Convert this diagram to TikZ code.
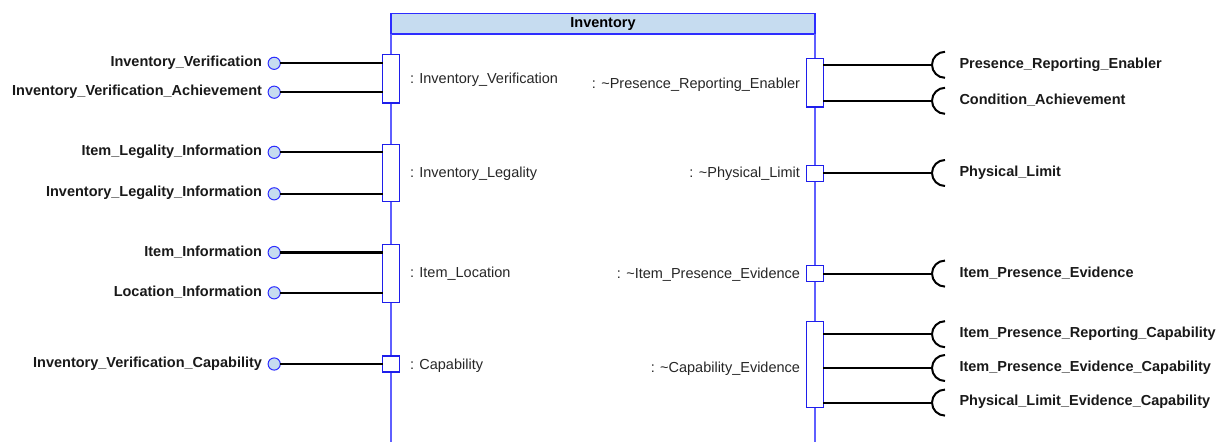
\documentclass[tikz,border=0pt]{standalone}
\usepackage{fontspec}
\setmainfont{Liberation Sans}
\begin{document}
\begin{tikzpicture}[x=1pt,y=1pt,
  every node/.style={inner sep=0pt, outer sep=0pt},
  titlebar/.style={draw=blockblue, fill=titlefill, line width=1.3pt, font=\fontsize{14.5}{16}\selectfont\bfseries},
  lifeline/.style={draw=lineblue, line width=1.7pt},
  portbox/.style={draw=portblue, fill=white, line width=1.3pt, minimum width=16.6pt},
  plabel/.style={font=\fontsize{14.5}{16}\selectfont, text=black!85},
  olabel/.style={font=\fontsize{14.5}{16}\selectfont\bfseries, text=black!90},
  iface/.style={circle, draw=blockblue, fill=titlefill, line width=1pt, minimum size=12.2pt},
  conn/.style={draw=black, line width=2.2pt},
  sock/.style={draw=black, line width=2pt}
]
\definecolor{blockblue}{RGB}{45,45,255}
\definecolor{lineblue}{RGB}{95,95,255}
\definecolor{portblue}{RGB}{30,30,235}
\definecolor{titlefill}{RGB}{198,220,240}
\useasboundingbox (0,0) rectangle (1220,-442);

% block header and its two borders
\node[titlebar, anchor=north west, minimum width=424pt, minimum height=20.7pt] (title) at (391,-13.3) {Inventory};
\coordinate (botL) at (391,-442);
\coordinate (botR) at (815,-442);
\draw[lifeline] (title.south west) -- (botL);
\draw[lifeline] (title.south east) -- (botR);

% ports on the left border
\node[portbox, minimum height=48.7pt] (pL1) at (391,-78.7) {};
\node[portbox, minimum height=57.4pt] (pL2) at (391,-173) {};
\node[portbox, minimum height=58pt] (pL3) at (391,-273.2) {};
\node[portbox, minimum height=16pt] (pL4) at (391,-364) {};

\node[plabel, anchor=west] (tL1) at (410,-80) {: Inventory\_Verification};
\node[plabel, anchor=west] (tL2) at (410,-174) {: Inventory\_Legality};
\node[plabel, anchor=west] (tL3) at (410,-274) {: Item\_Location};
\node[plabel, anchor=west] (tL4) at (410,-365.5) {: Capability};

% provided interfaces (lollipops)
\node[iface] (c1) at (274.2,-63.3) {};
\node[iface] (c2) at (274.2,-92.2) {};
\node[iface] (c3) at (274.2,-152.3) {};
\node[iface] (c4) at (274.2,-193.8) {};
\node[iface] (c5) at (274.2,-252.5) {};
\node[iface] (c6) at (274.2,-292.8) {};
\node[iface] (c7) at (274.2,-364) {};

\draw[conn] (c1) -- (c1 -| pL1.west);
\draw[conn] (c2) -- (c2 -| pL1.west);
\draw[conn] (c3) -- (c3 -| pL2.west);
\draw[conn] (c4) -- (c4 -| pL2.west);
\draw[conn] (c5) -- (c5 -| pL3.west);
\draw[conn] (c6) -- (c6 -| pL3.west);
\draw[conn] (c7) -- (c7 -| pL4.west);

\node[olabel, anchor=east] (oL1) at (262,-62.5) {Inventory\_Verification};
\node[olabel, anchor=east] (oL2) at (262,-91.5) {Inventory\_Verification\_Achievement};
\node[olabel, anchor=east] (oL3) at (262,-151.5) {Item\_Legality\_Information};
\node[olabel, anchor=east] (oL4) at (262,-193) {Inventory\_Legality\_Information};
\node[olabel, anchor=east] (oL5) at (262,-252) {Item\_Information};
\node[olabel, anchor=east] (oL6) at (262,-292) {Location\_Information};
\node[olabel, anchor=east] (oL7) at (262,-363.5) {Inventory\_Verification\_Capability};

% ports on the right border
\node[portbox, minimum height=48.3pt] (pR1) at (815,-82.9) {};
\node[portbox, minimum height=16pt] (pR2) at (815,-173.2) {};
\node[portbox, minimum height=16pt] (pR3) at (815,-273.5) {};
\node[portbox, minimum height=86.5pt] (pR4) at (815,-364.4) {};

\node[plabel, anchor=east] (tR1) at (800,-84.5) {: \textasciitilde Presence\_Reporting\_Enabler};
\node[plabel, anchor=east] (tR2) at (800,-174) {: \textasciitilde Physical\_Limit};
\node[plabel, anchor=east] (tR3) at (800,-274.5) {: \textasciitilde Item\_Presence\_Evidence};
\node[plabel, anchor=east] (tR4) at (800,-368.5) {: \textasciitilde Capability\_Evidence};

% required interfaces (sockets)
\coordinate (s1) at (932,-64.8);
\coordinate (s2) at (932,-100.8);
\coordinate (s3) at (932,-173);
\coordinate (s4) at (932,-273.6);
\coordinate (s5) at (932,-334.2);
\coordinate (s6) at (932,-368);
\coordinate (s7) at (932,-402.6);

\foreach \s/\p in {s1/pR1, s2/pR1, s3/pR2, s4/pR3, s5/pR4, s6/pR4, s7/pR4} {
  \draw[conn] (\p.east |- \s) -- (\s);
  \draw[sock] ([shift={(13,13)}]\s) arc[start angle=90, end angle=270, radius=13];
}

\node[olabel, anchor=west] (oR1) at (959.5,-64.5) {Presence\_Reporting\_Enabler};
\node[olabel, anchor=west] (oR2) at (959.5,-100.5) {Condition\_Achievement};
\node[olabel, anchor=west] (oR3) at (959.5,-172.5) {Physical\_Limit};
\node[olabel, anchor=west] (oR4) at (959.5,-273) {Item\_Presence\_Evidence};
\node[olabel, anchor=west] (oR5) at (959.5,-334) {Item\_Presence\_Reporting\_Capability};
\node[olabel, anchor=west] (oR6) at (959.5,-367.5) {Item\_Presence\_Evidence\_Capability};
\node[olabel, anchor=west] (oR7) at (959.5,-402) {Physical\_Limit\_Evidence\_Capability};
\end{tikzpicture}
\end{document}
